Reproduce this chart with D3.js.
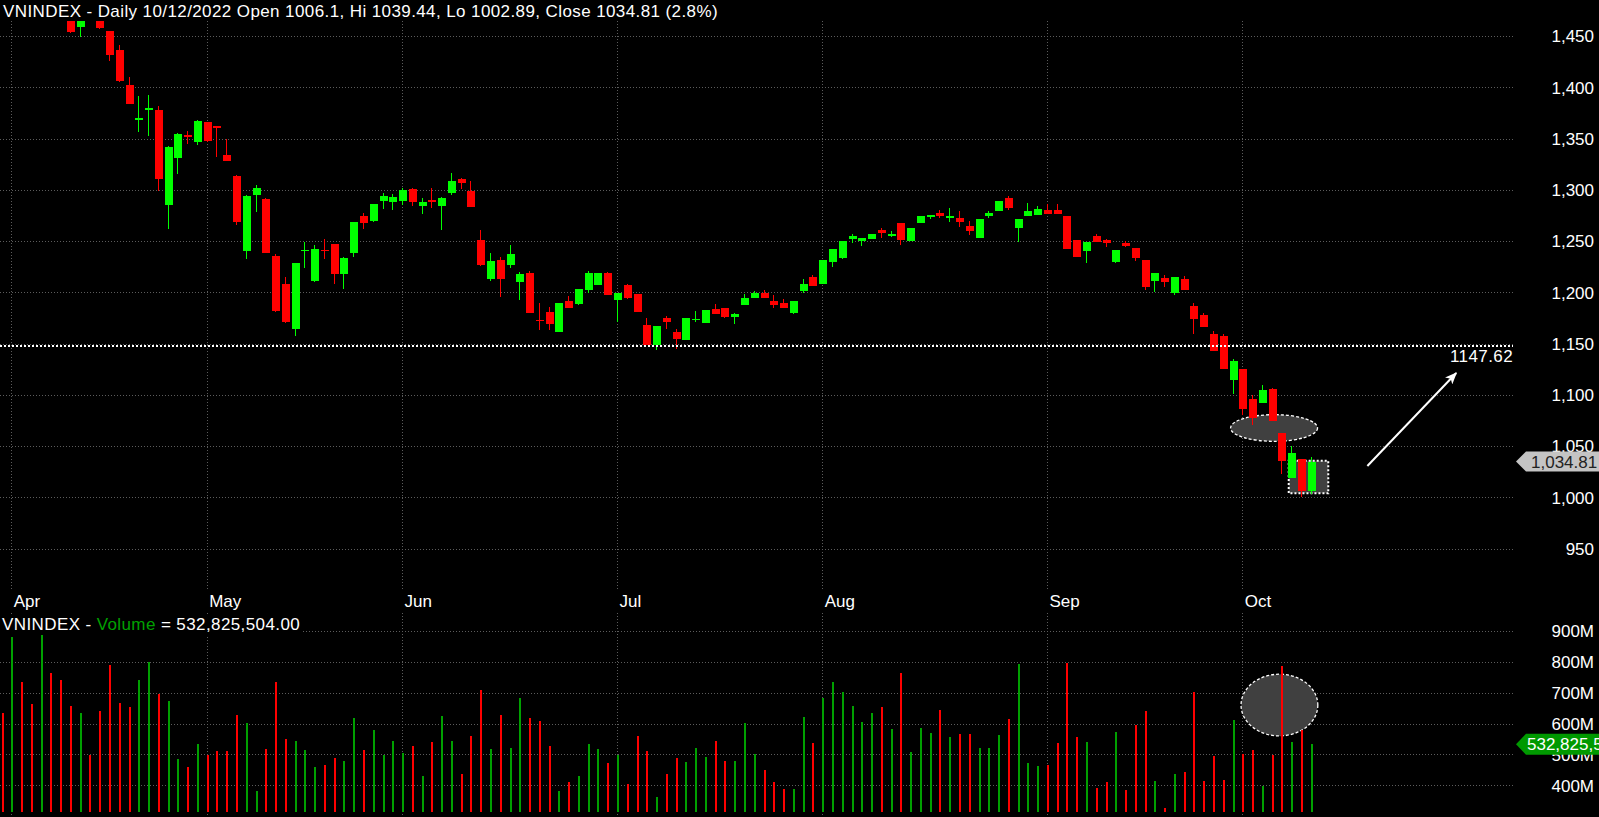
<!DOCTYPE html>
<html>
<head>
<meta charset="utf-8">
<script src="https://cdn.jsdelivr.net/npm/d3@7"></script>
<style>
  html, body { margin: 0; padding: 0; background: #000; overflow: hidden; }
  svg { display: block; }
  text { font-family: "Liberation Sans", Arial, sans-serif; font-size: 17px; }
  .title { letter-spacing: 0.4px; }
</style>
</head>
<body>
<script>
// trading days 31 Mar - 12 Oct 2022
const dates = [
  "2022-03-31",
  "2022-04-01","2022-04-04","2022-04-05","2022-04-06","2022-04-07","2022-04-08","2022-04-12","2022-04-13","2022-04-14","2022-04-15",
  "2022-04-18","2022-04-19","2022-04-20","2022-04-21","2022-04-22","2022-04-25","2022-04-26","2022-04-27","2022-04-28","2022-04-29",
  "2022-05-04","2022-05-05","2022-05-06","2022-05-09","2022-05-10","2022-05-11","2022-05-12","2022-05-13","2022-05-16","2022-05-17",
  "2022-05-18","2022-05-19","2022-05-20","2022-05-23","2022-05-24","2022-05-25","2022-05-26","2022-05-27","2022-05-30","2022-05-31",
  "2022-06-01","2022-06-02","2022-06-03","2022-06-06","2022-06-07","2022-06-08","2022-06-09","2022-06-10","2022-06-13","2022-06-14",
  "2022-06-15","2022-06-16","2022-06-17","2022-06-20","2022-06-21","2022-06-22","2022-06-23","2022-06-24","2022-06-27","2022-06-28",
  "2022-06-29","2022-06-30",
  "2022-07-01","2022-07-04","2022-07-05","2022-07-06","2022-07-07","2022-07-08","2022-07-11","2022-07-12","2022-07-13","2022-07-14",
  "2022-07-15","2022-07-18","2022-07-19","2022-07-20","2022-07-21","2022-07-22","2022-07-25","2022-07-26","2022-07-27","2022-07-28",
  "2022-07-29",
  "2022-08-01","2022-08-02","2022-08-03","2022-08-04","2022-08-05","2022-08-08","2022-08-09","2022-08-10","2022-08-11","2022-08-12",
  "2022-08-15","2022-08-16","2022-08-17","2022-08-18","2022-08-19","2022-08-22","2022-08-23","2022-08-24","2022-08-25","2022-08-26",
  "2022-08-29","2022-08-30","2022-08-31",
  "2022-09-05","2022-09-06","2022-09-07","2022-09-08","2022-09-09","2022-09-12","2022-09-13","2022-09-14","2022-09-15","2022-09-16",
  "2022-09-19","2022-09-20","2022-09-21","2022-09-22","2022-09-23","2022-09-26","2022-09-27","2022-09-28","2022-09-29","2022-09-30",
  "2022-10-03","2022-10-04","2022-10-05","2022-10-06","2022-10-07","2022-10-10","2022-10-11","2022-10-12"
];

const open = [
  1498,1492,1515,1510,1498,1508,1495,1480,1459,1474,1470,1455,1436.4,1402,1369.5,1378,1378,1285.2,1331,1353.7,1346.6,
  1366,1362.2,1334,1313.5,1240.6,1294.8,1291,1235.4,1208.1,1164.2,1240.3,1211,1241.3,1247.1,1217.9,1238.3,1274.4,1269.6,1289,1288,
  1289,1300.8,1284.2,1289.6,1284.2,1296.9,1310.5,1298.8,1251,1212.9,1231.5,1226.6,1210.1,1219,1173.2,1180.8,1161.3,1191.5,1188.6,1202.2,1207.1,1218.8,
  1192.5,1207.1,1198.3,1168.1,1148.6,1175,1161.3,1153.5,1173.3,1170,1183.7,1184.7,1175.9,1187.6,1194.4,1199.3,1191.5,1189.6,1179.8,1201.3,1215,
  1208.1,1229.6,1233.5,1251.9,1250.1,1251.9,1260.8,1255,1267.6,1250.1,1267.6,1273.5,1277.4,1272.5,1272.5,1264.6,1253,1274.4,1279.3,1292,1262.7,1274.4,1275.4,
  1280.3,1280.1,1274.4,1251,1240.3,1255,1251,1229.6,1248.1,1243.2,1231.5,1211,1213.9,1199.3,1213,1186.6,1177.9,1159.3,1157.4,1114.4,
  1125.2,1096,1092,1105.7,1062.7,1018.8,1037.4,1006.1
];
const high = [
  1500,1510,1524,1515,1512,1510,1498,1484,1470,1478,1472,1455,1441,1409.8,1391.5,1392.5,1381.8,1343,1355,1357.4,1368,
  1366.5,1362.5,1349.6,1314,1294.5,1304.7,1291.5,1237.3,1215,1229,1249.1,1246.1,1251.9,1247.5,1234,1268.8,1277.4,1286.5,1296.6,1296,
  1301.5,1301.7,1292,1301.7,1292.5,1316.4,1311.5,1308.6,1261,1238.2,1234.4,1246.1,1220,1221,1189.6,1185.7,1189.8,1196.4,1203.5,1220.8,1219,1219.8,
  1199.5,1208.1,1198.5,1175,1167.3,1177,1164.2,1175.2,1181.8,1182.9,1188.6,1185,1179.8,1198.3,1201.3,1202.2,1197.4,1193.5,1191.7,1213,1217,
  1231.7,1242.5,1250.3,1256.9,1253.2,1257.1,1262.7,1259.8,1267.8,1262.9,1274.6,1275.6,1280.3,1282.2,1279.3,1269.6,1271.7,1279.3,1289.2,1294,1271.7,1287.1,1284.2,
  1286.1,1286.3,1274.6,1251.2,1249.3,1256.9,1252,1241.5,1250,1243.4,1231.7,1219,1216.9,1215.2,1215.9,1189.6,1179.8,1162.2,1159.3,1135,
  1125.4,1100,1109.6,1106.6,1062.9,1050,1037.6,1039.44
];
const low = [
  1488,1490,1505,1498,1495,1490,1480,1453,1449,1466,1457,1425.6,1405,1383.5,1356.4,1352.5,1299,1261.8,1315.7,1344.7,1343.7,
  1347,1332.3,1328,1265.7,1232.5,1278.6,1238,1180.8,1170.5,1157.4,1223.7,1210.5,1232.5,1208.1,1203.2,1234.4,1261.8,1269,1281.3,1280,
  1285.6,1283.7,1276.4,1282.2,1260.8,1295,1300.8,1283,1226,1211,1195.4,1223.7,1192.5,1179.5,1163.2,1163.2,1161,1184.5,1187.6,1199.3,1206.8,1197,
  1171,1193.5,1180.5,1148.4,1143.7,1164.2,1144.7,1153.3,1171,1169.8,1178.5,1174.9,1169.1,1187.4,1194.2,1194.2,1184.7,1184.5,1178.8,1199.3,1206,
  1207.9,1224.7,1232.5,1248.1,1245.1,1251.7,1252.9,1253.9,1246.1,1249.8,1267.4,1271.5,1272.5,1268.6,1263.7,1256,1252.8,1272.5,1279.1,1280.3,1249.1,1274.2,1275.2,
  1276.2,1276,1242.1,1234.2,1228.6,1249,1244.2,1228.6,1244,1230.5,1202.3,1200.3,1205.2,1197.4,1202,1159.3,1165.9,1142.5,1125,1100.3,
  1080.3,1070.5,1091.8,1074.3,1022.7,1018.6,1000.3,1002.89
];
const close = [
  1492,1506,1508,1501,1508,1492,1484,1454,1467,1468,1458,1431.5,1406,1383.7,1370,1380,1310.5,1341.8,1354.4,1351,1367.1,
  1347.6,1361,1328,1268.9,1294.2,1301.7,1238.3,1181.8,1171,1228.6,1241.3,1242.3,1240.6,1217.9,1233.5,1268.6,1267.6,1286.2,1294,1293,
  1299.8,1288,1288.1,1289.4,1292,1308.6,1306.6,1283.2,1226.6,1230.4,1212.9,1237.4,1218,1180,1172.3,1169.1,1189.6,1184.7,1203.2,1218.8,1218.8,1197.4,
  1199.3,1194.4,1180.8,1148.6,1167.1,1171,1154.4,1175,1174,1182.7,1178.8,1175.9,1178.8,1194.4,1199.3,1194.4,1187.6,1184.7,1191.5,1208.1,1206.2,
  1231.5,1242.3,1250.1,1255,1253,1256.9,1257.9,1256.9,1251,1262.7,1274.4,1275.4,1274.4,1274.4,1268.6,1259.8,1271.5,1277.4,1289,1282.2,1271.5,1279.3,1281.2,
  1276.4,1276.6,1242.3,1234.4,1249.1,1249.1,1248.1,1241.3,1245.1,1233.5,1205.2,1218.8,1210.1,1215,1202.2,1173.9,1166.1,1142.7,1125.2,1133,
  1086.1,1077.4,1104.7,1074.5,1035.4,1043.2,1006.1,1034.81
];
// volume, millions of shares
const volume = [
  633,879.5,734.8,663.5,890.3,764,741.3,657,633.3,497.2,640.8,789.9,665.7,653.8,741.3,798.5,695.9,673.2,484.2,459.4,533.9,
  497.2,511.2,511.2,627.9,600.9,381.6,517.7,734.8,550.1,543.6,514.5,459.4,465.9,488.6,478.9,618.2,514.5,579.3,497.2,543.6,
  504.8,527.5,430.2,540.4,624.6,543.6,436.7,559.8,708.9,517.7,627.9,521,683,618.2,608.4,527.5,381.6,410.8,430.2,533.9,517.7,472.4,
  497.2,404.4,559.8,511.2,362.2,436.7,488.6,475.6,521,491.8,543.6,478.9,478.9,600.9,501.5,449.7,410.8,388.1,388.1,621.4,537.2,
  683,734.8,702.4,657,605.2,634.4,653.8,582.5,764,508,585.8,569.6,644.1,556.6,566.3,566.3,521,521,563.1,614.9,793.1,472.4,462.7,
  465.9,537.2,796.4,556.6,540.4,391.4,410.8,572.8,384.9,595.5,640.8,414,327.7,436.7,443.2,702.4,414,495,417.3,611.7,
  501.5,514.5,397.8,497.2,786.7,540.4,579.3,532.8255
];

const priceTicks = [950, 1000, 1050, 1100, 1150, 1200, 1250, 1300, 1350, 1400, 1450];
const volumeTicks = [400, 500, 600, 700, 800, 900];
const monthStarts = ["2022-04-01","2022-05-04","2022-06-01","2022-07-01","2022-08-01","2022-09-05","2022-10-03"];
const monthLabels = ["Apr","May","Jun","Jul","Aug","Sep","Oct"];
const refLevel = 1147.62;
const lastVolume = 532825504;

// layout
const W = 1599, H = 817;
const plotRight = 1513;
const priceTop = 21, priceBottom = 590;
const volTop = 613, volBase = 812;
const RED = "#ff0000", GREEN = "#00ff00", VGREEN = "#00a000", GRID = "#5c5c5c";

const x = d3.scalePoint().domain(dates).range([1.5, 1310.7]);
// same mapping by bar number, used for drawings past the last bar
const xi = d3.scaleLinear().domain([0, dates.length - 1]).range(x.range());
const y = d3.scaleLinear().domain([1000, 1450]).range([497.3, 36]);
const yv = d3.scaleLinear().domain([400, 900]).range([785.3, 631]);

const svg = d3.select("body").append("svg").attr("width", W).attr("height", H);
svg.append("rect").attr("width", W).attr("height", H).attr("fill", "#000");

const defs = svg.append("defs");
defs.append("clipPath").attr("id", "clipPrice").append("rect")
  .attr("x", 0).attr("y", priceTop).attr("width", plotRight).attr("height", priceBottom - priceTop);
defs.append("clipPath").attr("id", "clipVol").append("rect")
  .attr("x", 0).attr("y", volTop).attr("width", plotRight).attr("height", H - volTop);
defs.append("marker")
  .attr("id", "arrow")
  .attr("viewBox", "0 -5 12 10")
  .attr("refX", 11).attr("refY", 0)
  .attr("markerWidth", 6).attr("markerHeight", 5)
  .attr("markerUnits", "strokeWidth")
  .attr("orient", "auto")
  .append("path").attr("d", "M0,-5L12,0L0,5L3,0Z").attr("fill", "#fff");

// grid
const grid = svg.append("g").attr("stroke", GRID).attr("stroke-dasharray", "1,2").attr("shape-rendering", "crispEdges");
grid.selectAll("line.hp").data(priceTicks).join("line")
  .attr("x1", 0).attr("x2", plotRight)
  .attr("y1", d => Math.round(y(d)) + 0.5).attr("y2", d => Math.round(y(d)) + 0.5);
grid.selectAll("line.hv").data(volumeTicks).join("line")
  .attr("x1", 0).attr("x2", plotRight)
  .attr("y1", d => Math.round(yv(d)) + 0.5).attr("y2", d => Math.round(yv(d)) + 0.5);
grid.selectAll("line.vp").data(monthStarts).join("line")
  .attr("x1", d => Math.round(x(d)) + 0.5).attr("x2", d => Math.round(x(d)) + 0.5)
  .attr("y1", priceTop).attr("y2", priceBottom);
grid.selectAll("line.vv").data(monthStarts).join("line")
  .attr("x1", d => Math.round(x(d)) + 0.5).attr("x2", d => Math.round(x(d)) + 0.5)
  .attr("y1", volTop).attr("y2", H);

// drawn annotations (behind the bars)
const ann = svg.append("g");
ann.append("ellipse")
  .attr("cx", xi(130.25)).attr("cy", y(1067.6))
  .attr("rx", xi(130.25 + 4.45) - xi(130.25)).attr("ry", y(1067.6) - y(1067.6 + 13))
  .attr("fill", "#404040").attr("stroke", "#fff").attr("stroke-width", 1.3).attr("stroke-dasharray", "3,2");
ann.append("rect")
  .attr("x", xi(131.75)).attr("y", y(1035.7))
  .attr("width", xi(135.8) - xi(131.75)).attr("height", y(1003.9) - y(1035.7))
  .attr("fill", "#404040").attr("stroke", "#fff").attr("stroke-width", 2).attr("stroke-dasharray", "2,2");
ann.append("ellipse")
  .attr("cx", xi(130.8)).attr("cy", yv(660))
  .attr("rx", xi(130.8 + 3.93) - xi(130.8)).attr("ry", yv(660) - yv(760))
  .attr("fill", "#404040").attr("stroke", "#fff").attr("stroke-width", 1.3).attr("stroke-dasharray", "3,2");

const idx = d3.range(dates.length);
const up = i => close[i] >= open[i];
const cx = i => Math.round(x(dates[i]));

// candles
const gc = svg.append("g").attr("clip-path", "url(#clipPrice)").attr("shape-rendering", "crispEdges");
gc.selectAll("line.wick").data(idx).join("line")
  .attr("x1", i => cx(i) + 0.5).attr("x2", i => cx(i) + 0.5)
  .attr("y1", i => y(high[i])).attr("y2", i => y(low[i]))
  .attr("stroke", i => up(i) ? GREEN : RED).attr("stroke-width", 1);
gc.selectAll("rect.body").data(idx).join("rect")
  .attr("x", i => cx(i) - 3)
  .attr("width", 8)
  .attr("y", i => y(Math.max(open[i], close[i])))
  .attr("height", i => Math.max(1.5, Math.abs(y(open[i]) - y(close[i]))))
  .attr("fill", i => up(i) ? GREEN : RED);

// volume bars
const gv = svg.append("g").attr("clip-path", "url(#clipVol)").attr("shape-rendering", "crispEdges");
gv.selectAll("rect").data(idx).join("rect")
  .attr("x", i => cx(i))
  .attr("width", 2)
  .attr("y", i => yv(volume[i]))
  .attr("height", i => Math.max(0, volBase - yv(volume[i])))
  .attr("fill", i => up(i) ? VGREEN : RED);

// reference level
svg.append("line")
  .attr("x1", 0).attr("x2", plotRight)
  .attr("y1", y(refLevel)).attr("y2", y(refLevel))
  .attr("stroke", "#fff").attr("stroke-width", 2).attr("stroke-dasharray", "2,2");
svg.append("text")
  .attr("class", "title")
  .attr("x", plotRight).attr("y", y(refLevel) + 16)
  .attr("text-anchor", "end").attr("fill", "#fff")
  .text(refLevel.toFixed(2));

// arrow
svg.append("line")
  .attr("x1", xi(139.8)).attr("y1", y(1030.5))
  .attr("x2", xi(148.9)).attr("y2", y(1121.3))
  .attr("stroke", "#fff").attr("stroke-width", 2)
  .attr("marker-end", "url(#arrow)");

// price axis labels
const fmt = d3.format(",");
const ay = svg.append("g").attr("transform", `translate(1594,0)`)
  .call(d3.axisRight(y).tickValues(priceTicks).tickSize(0).tickFormat(fmt));
ay.select(".domain").remove();
ay.selectAll("text").attr("x", 0).attr("dy", "0.35em").attr("text-anchor", "end")
  .attr("fill", "#fff").style("font-size", "17px")
  .style("font-family", '"Liberation Sans", Arial, sans-serif');

const av = svg.append("g").attr("transform", `translate(1594,0)`)
  .call(d3.axisRight(yv).tickValues(volumeTicks).tickSize(0).tickFormat(d => d + "M"));
av.select(".domain").remove();
av.selectAll("text").attr("x", 0).attr("dy", "0.35em").attr("text-anchor", "end")
  .attr("fill", "#fff").style("font-size", "17px")
  .style("font-family", '"Liberation Sans", Arial, sans-serif');

// month labels
svg.selectAll("text.month").data(monthStarts).join("text")
  .attr("x", d => x(d) + 2.5).attr("y", 607)
  .attr("fill", "#fff")
  .text((d, i) => monthLabels[i]);

// last price tag
const last = dates.length - 1;
const lp = y(close[last]);
svg.append("path")
  .attr("d", `M1516,${lp} L1526,${lp - 10} L1605,${lp - 10} L1605,${lp + 10} L1526,${lp + 10} Z`)
  .attr("fill", "#c4c4c4");
svg.append("text").attr("x", 1531).attr("y", lp + 6).attr("fill", "#222")
  .text(d3.format(",.2f")(close[last]));

// last volume tag
const lv = yv(volume[last]);
svg.append("path")
  .attr("d", `M1516,${lv} L1526,${lv - 10.5} L1605,${lv - 10.5} L1605,${lv + 10.5} L1526,${lv + 10.5} Z`)
  .attr("fill", "#009900");
svg.append("text").attr("x", 1527).attr("y", lv + 6).attr("fill", "#fff")
  .text(d3.format(",.2f")(lastVolume));

// titles
svg.append("text").attr("class", "title").attr("x", 3).attr("y", 17).attr("fill", "#fff")
  .text(`VNINDEX - Daily 10/12/2022 Open ${open[last]}, Hi ${high[last]}, Lo ${low[last]}, Close ${close[last]} (2.8%)`);

svg.append("rect").attr("x", 0).attr("y", 614).attr("width", 302).attr("height", 21).attr("fill", "#000");
const vt = svg.append("text").attr("class", "title").attr("x", 2).attr("y", 630).attr("fill", "#fff");
vt.append("tspan").text("VNINDEX - ");
vt.append("tspan").attr("fill", VGREEN).text("Volume");
vt.append("tspan").text(" = " + d3.format(",.2f")(lastVolume));
</script>
</body>
</html>
